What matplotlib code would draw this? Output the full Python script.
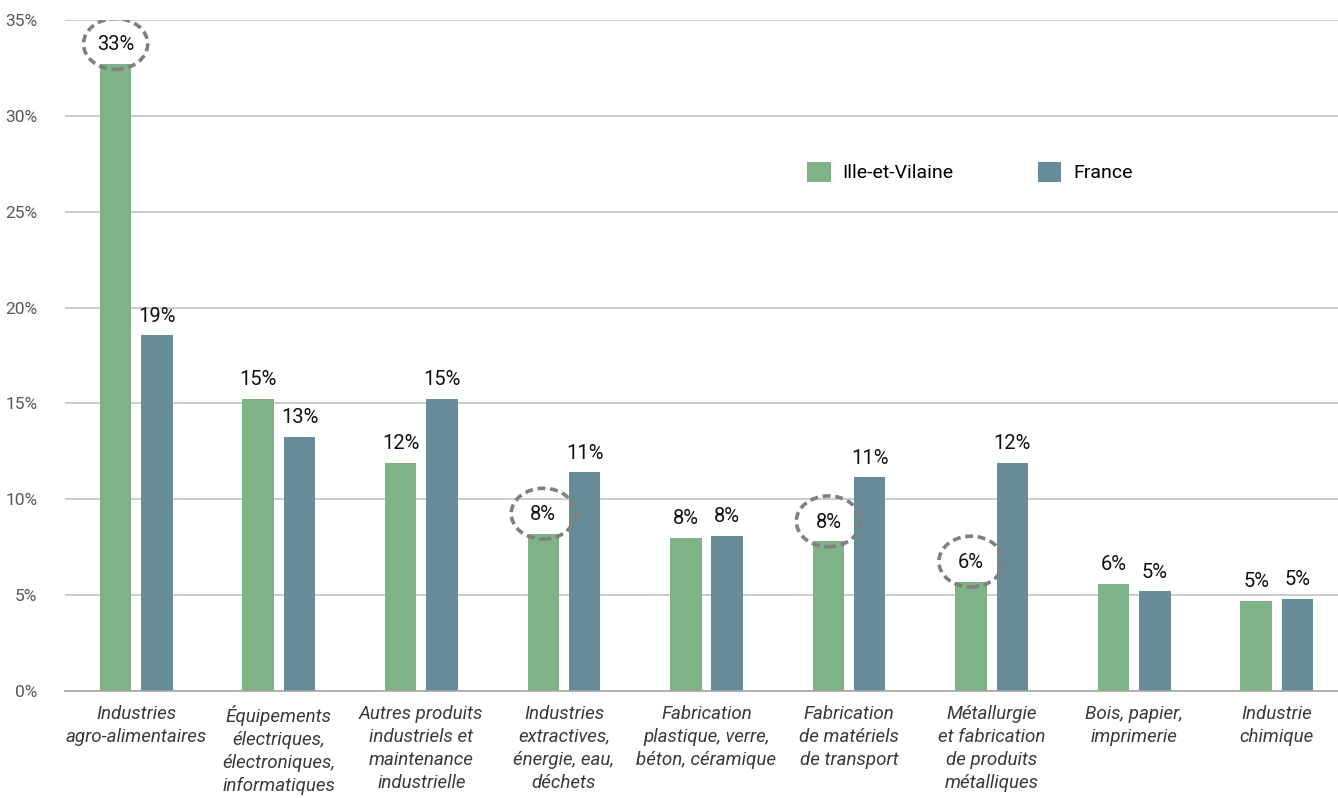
import matplotlib.pyplot as plt
import numpy as np
from matplotlib.patches import Ellipse

plt.rcParams['font.family'] = ['Roboto', 'DejaVu Sans']

# Répartition de l'emploi industriel par secteur (%)
secteurs = ['Industries\nagro-alimentaires',
            'Équipements\nélectriques,\nélectroniques,\ninformatiques',
            'Autres produits\nindustriels et\nmaintenance\nindustrielle',
            'Industries\nextractives,\nénergie, eau,\ndéchets',
            'Fabrication\nplastique, verre,\nbéton, céramique',
            'Fabrication\nde matériels\nde transport',
            'Métallurgie\net fabrication\nde produits\nmétalliques',
            'Bois, papier,\nimprimerie',
            'Industrie\nchimique']
ille_et_vilaine = [32.7, 15.25, 11.9, 8.2, 8.0, 7.8, 5.7, 5.6, 4.7]
france = [18.55, 13.25, 15.25, 11.4, 8.1, 11.15, 11.9, 5.2, 4.8]
# secteurs mis en évidence (cercle pointillé autour de l'étiquette)
mis_en_avant = [0, 3, 5, 6]

vert = '#7fb287'
bleu = '#668c97'

fig = plt.figure(figsize=(13.38, 7.98), dpi=100)
ax = fig.add_axes([65 / 1338, 107 / 798, 1283 / 1338, 671 / 798])

x = np.arange(len(secteurs))
w = 0.22
d = 0.145
ax.bar(x - d, ille_et_vilaine, w, color=vert, label='Ille-et-Vilaine', zorder=2)
ax.bar(x + d, france, w, color=bleu, label='France', zorder=2)

for i in range(len(secteurs)):
    ax.text(x[i] - d, ille_et_vilaine[i] + 1.0, f'{ille_et_vilaine[i]:.0f}%',
            ha='center', va='center', fontsize=14.5, color='#111111', zorder=4)
    ax.text(x[i] + d, france[i] + 1.0, f'{france[i]:.0f}%',
            ha='center', va='center', fontsize=14.5, color='#111111', zorder=4)

for i in mis_en_avant:
    centre = (x[i] - d, ille_et_vilaine[i] + 1.05)
    # fond blanc sous les barres, contour pointillé au-dessus
    ax.add_patch(Ellipse(centre, 0.45, 2.65, facecolor='white',
                         edgecolor='none', zorder=1))
    ax.add_patch(Ellipse(centre, 0.45, 2.65, fill=False, edgecolor='#808080',
                         linestyle=(0, (2.2, 1.3)), linewidth=2.6, zorder=3))

ax.set_xlim(-0.5, len(secteurs) - 0.5)
ax.set_ylim(0, 35)
ax.set_yticks(np.arange(0, 36, 5))
ax.set_yticklabels([f'{v}%' for v in range(0, 36, 5)], fontsize=12.5, color='#595959')
ax.set_xticks(x)
ax.set_xticklabels(secteurs, fontsize=13.5, style='italic', color='#3a3a3a',
                   linespacing=1.35, va='top')
ax.tick_params(axis='both', length=0)
ax.tick_params(axis='x', pad=10)
ax.tick_params(axis='y', pad=20)

ax.grid(axis='y', color='#bfbfbf', linewidth=1.1, zorder=0)
for s in ['top', 'right', 'left']:
    ax.spines[s].set_visible(False)
ax.spines['bottom'].set_color('#a6a6a6')
ax.spines['bottom'].set_linewidth(1.2)

ax.legend(loc='upper left', bbox_to_anchor=(0.565, 0.815), ncol=2, frameon=False,
          fontsize=14, handlelength=1.2, handleheight=1.2, columnspacing=4.35,
          handletextpad=0.6)

plt.savefig('out.png', dpi=100)
